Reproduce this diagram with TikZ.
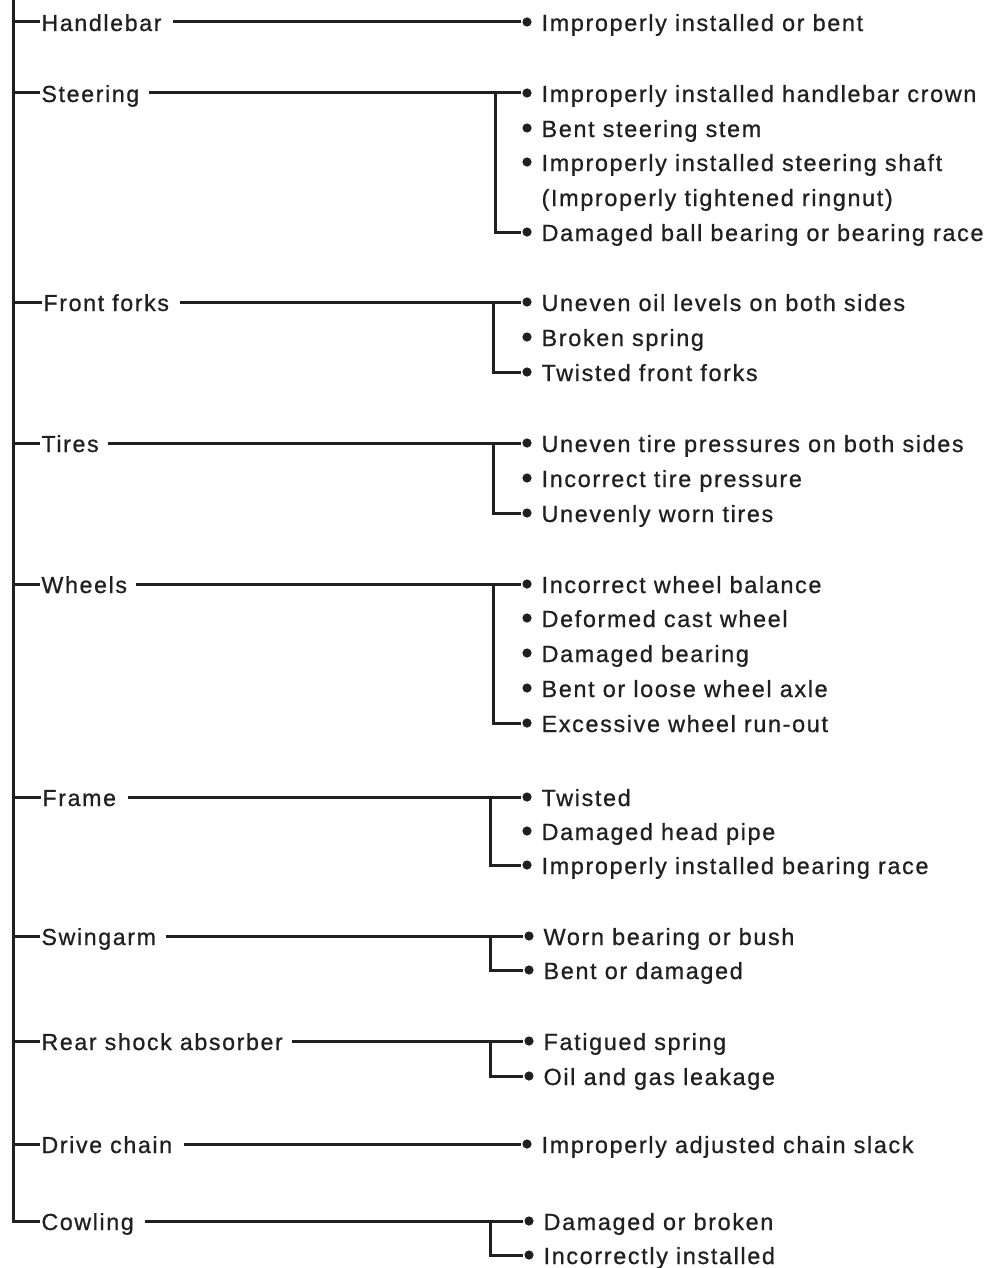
\documentclass[tikz,border=0pt]{standalone}
\usepackage{fontspec}
\setmainfont[LetterSpace=7,FakeBold=0.8]{Liberation Sans}
\usetikzlibrary{positioning}
\definecolor{ink}{HTML}{202020}

\begin{document}
\begin{tikzpicture}[x=0.5pt,y=-0.5pt,line width=1.5pt,color=ink,
  cat/.style={anchor=west,inner sep=0pt,text height=9pt,text depth=0pt,font=\fontsize{11.6}{13}\selectfont},
  item/.style={inner sep=0pt,text height=9pt,text depth=0pt,font=\fontsize{11.7}{13}\selectfont},
  dot/.style={circle,fill=ink,inner sep=0pt,minimum size=4.6pt}]
  \useasboundingbox (0,0) rectangle (990,1268);
  \coordinate (top) at (13,0);

  % parts
  \node[cat] (hb) at (40,22) {Handlebar};
  \node[cat] (st) at (40,93) {Steering};
  \node[cat] (ff) at (42,302) {Front forks};
  \node[cat] (ti) at (40,443) {Tires};
  \node[cat] (wh) at (40,584) {Wheels};
  \node[cat] (fr) at (41,797) {Frame};
  \node[cat] (sw) at (40,936) {Swingarm};
  \node[cat] (rs) at (40,1041) {Rear shock absorber};
  \node[cat] (dc) at (40,1144) {Drive chain};
  \node[cat] (cw) at (40,1221) {Cowling};

  % causes
  \node[dot] (hb1) at (527,22) {};
  \node[item,right=3.5pt of hb1] (hb1t) {Improperly installed or bent};

  \node[dot] (st1) at (527,93) {};
  \node[item,right=3.5pt of st1] (st1t) {Improperly installed handlebar crown};
  \node[dot] (st2) at (527,128) {};
  \node[item,right=3.5pt of st2] (st2t) {Bent steering stem};
  \node[dot] (st3) at (527,162) {};
  \node[item,right=3.5pt of st3] (st3t) {Improperly installed steering shaft};
  \node[item,anchor=west] (st3c) at (st3t.west |- 0,197) {(Improperly tightened ringnut)};
  \node[dot] (st4) at (527,232) {};
  \node[item,right=3.5pt of st4] (st4t) {Damaged ball bearing or bearing race};

  \node[dot] (ff1) at (527,302) {};
  \node[item,right=3.5pt of ff1] (ff1t) {Uneven oil levels on both sides};
  \node[dot] (ff2) at (527,337) {};
  \node[item,right=3.5pt of ff2] (ff2t) {Broken spring};
  \node[dot] (ff3) at (527,372) {};
  \node[item,right=3.5pt of ff3] (ff3t) {Twisted front forks};

  \node[dot] (ti1) at (527,443) {};
  \node[item,right=3.5pt of ti1] (ti1t) {Uneven tire pressures on both sides};
  \node[dot] (ti2) at (527,478) {};
  \node[item,right=3.5pt of ti2] (ti2t) {Incorrect tire pressure};
  \node[dot] (ti3) at (527,513) {};
  \node[item,right=3.5pt of ti3] (ti3t) {Unevenly worn tires};

  \node[dot] (wh1) at (527,584) {};
  \node[item,right=3.5pt of wh1] (wh1t) {Incorrect wheel balance};
  \node[dot] (wh2) at (527,618) {};
  \node[item,right=3.5pt of wh2] (wh2t) {Deformed cast wheel};
  \node[dot] (wh3) at (527,653) {};
  \node[item,right=3.5pt of wh3] (wh3t) {Damaged bearing};
  \node[dot] (wh4) at (527,688) {};
  \node[item,right=3.5pt of wh4] (wh4t) {Bent or loose wheel axle};
  \node[dot] (wh5) at (527,723) {};
  \node[item,right=3.5pt of wh5] (wh5t) {Excessive wheel run-out};

  \node[dot] (fr1) at (527,797) {};
  \node[item,right=3.5pt of fr1] (fr1t) {Twisted};
  \node[dot] (fr2) at (527,831) {};
  \node[item,right=3.5pt of fr2] (fr2t) {Damaged head pipe};
  \node[dot] (fr3) at (527,865) {};
  \node[item,right=3.5pt of fr3] (fr3t) {Improperly installed bearing race};

  \node[dot] (sw1) at (529,936) {};
  \node[item,right=3.5pt of sw1] (sw1t) {Worn bearing or bush};
  \node[dot] (sw2) at (529,970) {};
  \node[item,right=3.5pt of sw2] (sw2t) {Bent or damaged};

  \node[dot] (rs1) at (529,1041) {};
  \node[item,right=3.5pt of rs1] (rs1t) {Fatigued spring};
  \node[dot] (rs2) at (529,1076) {};
  \node[item,right=3.5pt of rs2] (rs2t) {Oil and gas leakage};

  \node[dot] (dc1) at (527,1144) {};
  \node[item,right=3.5pt of dc1] (dc1t) {Improperly adjusted chain slack};

  \node[dot] (cw1) at (529,1221) {};
  \node[item,right=3.5pt of cw1] (cw1t) {Damaged or broken};
  \node[dot] (cw2) at (529,1255) {};
  \node[item,right=3.5pt of cw2] (cw2t) {Incorrectly installed};

  % trunk and branches
  \draw (top) |- (cw.west);
  \foreach \p in {hb,st,ff,ti,wh,fr,sw,rs,dc}
    \draw (\p.west -| top) -- (\p.west);

  \draw[shorten <=5pt] (hb.east) -- (hb1.west);
  \draw[shorten <=5pt] (dc.east) -- (dc1.west);
  \draw[shorten <=4pt] (st.east) -- (st1.west);
  \draw (st1.west) ++(-25,0) |- (st4.west);
  \draw[shorten <=5pt] (ff.east) -- (ff1.west);
  \draw (ff1.west) ++(-27,0) |- (ff3.west);
  \draw[shorten <=4pt] (ti.east) -- (ti1.west);
  \draw (ti1.west) ++(-27,0) |- (ti3.west);
  \draw[shorten <=4pt] (wh.east) -- (wh1.west);
  \draw (wh1.west) ++(-27,0) |- (wh5.west);
  \draw[shorten <=5pt] (fr.east) -- (fr1.west);
  \draw (fr1.west) ++(-30,0) |- (fr3.west);
  \draw[shorten <=4pt] (sw.east) -- (sw1.west);
  \draw (sw1.west) ++(-32,0) |- (sw2.west);
  \draw[shorten <=4pt] (rs.east) -- (rs1.west);
  \draw (rs1.west) ++(-32,0) |- (rs2.west);
  \draw[shorten <=5pt] (cw.east) -- (cw1.west);
  \draw (cw1.west) ++(-32,0) |- (cw2.west);
\end{tikzpicture}
\end{document}
